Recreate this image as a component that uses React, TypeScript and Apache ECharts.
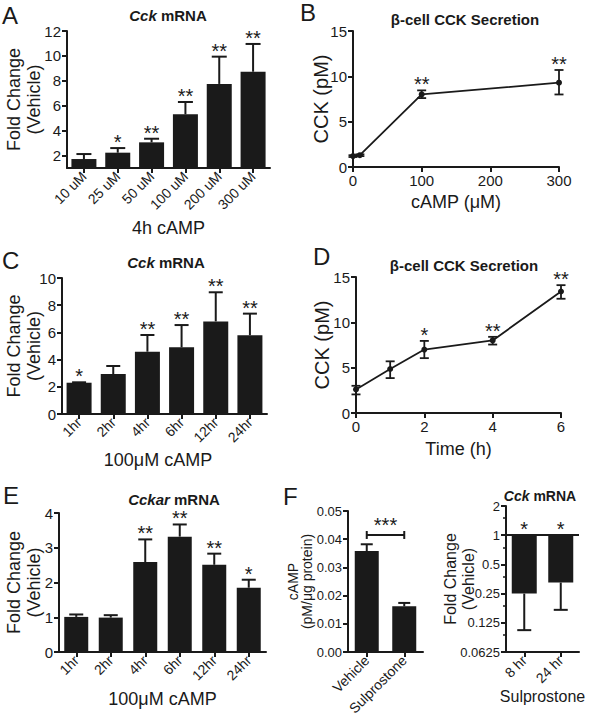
import React, { useEffect, useRef } from 'react';
import * as echarts from 'echarts';

const FONT = '"Liberation Sans", Arial, Helvetica, sans-serif';
const INK = '#1a1a1a';

// ---- Panel A: Cck mRNA, 4h cAMP dose ----
const aCategories = ['10 uM', '25 uM', '50 uM', '100 uM', '200 uM', '300 uM'];
const aMeans = [1.72, 2.23, 3.06, 5.31, 7.75, 8.73];
const aErrTops = [2.12, 2.6, 3.35, 6.3, 9.94, 10.96];
const aStars = ['', '*', '**', '**', '**', '**'];
const aYTicks = [2, 4, 6, 8, 10, 12];

// ---- Panel B: beta-cell CCK secretion vs cAMP dose ----
const bDose = [0, 10, 100, 300];
const bMeans = [1.2, 1.3, 8.0, 9.3];
const bLow = [1.1, 1.2, 7.6, 8.0];
const bHigh = [1.3, 1.4, 8.45, 10.7];
const bStars = ['', '', '**', '**'];

// ---- Panel C: Cck mRNA, 100 uM cAMP time course ----
const cCategories = ['1hr', '2hr', '4hr', '6hr', '12hr', '24hr'];
const cMeans = [2.3, 2.94, 4.58, 4.9, 6.81, 5.79];
const cErrTops = [2.33, 3.53, 5.81, 6.54, 8.95, 7.38];
const cStars = ['*', '', '**', '**', '**', '**'];

// ---- Panel D: beta-cell CCK secretion vs time ----
const dTime = [0, 1, 2, 4, 6];
const dMeans = [2.6, 4.85, 7.0, 8.0, 13.4];
const dLow = [2.05, 3.85, 6.05, 7.55, 12.6];
const dHigh = [3.0, 5.7, 7.95, 8.4, 14.1];
const dStars = ['', '', '*', '**', '**'];

// ---- Panel E: Cckar mRNA ----
const eCategories = ['1hr', '2hr', '4hr', '6hr', '12hr', '24hr'];
const eMeans = [1.01, 0.99, 2.59, 3.32, 2.51, 1.85];
const eErrTops = [1.08, 1.06, 3.24, 3.67, 2.83, 2.08];
const eStars = ['', '', '**', '**', '**', '*'];

// ---- Panel F (left): cAMP content ----
const fCategories = ['Vehicle', 'Sulprostone'];
const fMeans = [0.0358, 0.0162];
const fErrTops = [0.0382, 0.0174];
const fBracketValue = 0.0415;
const fBracketStars = '***';

// ---- Panel F (right): Cck mRNA with Sulprostone (log2 axis) ----
const gCategories = ['8 hr', '24 hr'];
const gMeans = [0.25, 0.325];
const gErrBottoms = [0.105, 0.17];
const gStars = ['*', '*'];
const gBaseline = 1;

const axisLine = { show: true, onZero: false, lineStyle: { color: INK, width: 2 } };
const axisTick = { show: true, length: 5, lineStyle: { color: INK, width: 2 } };
const tickLabel = (size: number) => ({ color: INK, fontFamily: FONT, fontSize: size });
const nameStyle = (size: number, lh?: number) => ({
  color: INK, fontFamily: FONT, fontSize: size, lineHeight: lh || size,
});

function catX(gi: number, data: string[], name: string, gap: number, nameSize: number, fontSize = 14, extra: any = {}) {
  return {
    type: 'category', gridIndex: gi, data, boundaryGap: true,
    axisLine, axisTick: { ...axisTick, alignWithLabel: true, interval: 0 },
    axisLabel: { ...tickLabel(fontSize), rotate: 45, interval: 0, margin: 6 },
    splitLine: { show: false },
    name, nameLocation: 'middle', nameGap: gap, nameMoveOverlap: false,
    nameTextStyle: { ...nameStyle(nameSize), ...extra },
  };
}

function valAxis(gi: number, min: number, max: number, interval: number, name: string, gap: number, ns: any, fontSize = 15, extra: any = {}) {
  return {
    type: 'value', gridIndex: gi, min, max, interval,
    axisLine, axisTick,
    axisLabel: { ...tickLabel(fontSize), margin: 6 },
    splitLine: { show: false },
    name, nameLocation: 'middle', nameGap: gap, nameMoveOverlap: false, nameTextStyle: ns,
    ...extra,
  };
}

function errSeries(gi: number, xs: any[], a: number[], b: number[], anchors: number[], stars: string[], cap: number, capBoth: boolean, lw: number) {
  return {
    type: 'custom', xAxisIndex: gi, yAxisIndex: gi, z: 5, clip: false, silent: true,
    data: xs.map((x, i) => [x, a[i], b[i], anchors[i]]),
    renderItem: (params: any, api: any) => {
      const x = api.value(0);
      const p0 = api.coord([x, api.value(1)]);
      const p1 = api.coord([x, api.value(2)]);
      const pa = api.coord([x, api.value(3)]);
      const h = cap / 2;
      const st = { stroke: INK, lineWidth: lw };
      const children: any[] = [
        { type: 'line', shape: { x1: p0[0], y1: p0[1], x2: p1[0], y2: p1[1] }, style: st },
        { type: 'line', shape: { x1: p1[0] - h, y1: p1[1], x2: p1[0] + h, y2: p1[1] }, style: st },
      ];
      if (capBoth) {
        children.push({ type: 'line', shape: { x1: p0[0] - h, y1: p0[1], x2: p0[0] + h, y2: p0[1] }, style: st });
      }
      const s = stars[params.dataIndex];
      if (s) {
        children.push({
          type: 'text', x: pa[0], y: pa[1] - 6,
          style: { text: s, fill: INK, font: `20px ${FONT}`, align: 'center', verticalAlign: 'middle' },
        });
      }
      return { type: 'group', children };
    },
  };
}

function barSeries(gi: number, values: number[], width: number, extra: any = {}) {
  return {
    type: 'bar', xAxisIndex: gi, yAxisIndex: gi, data: values, barWidth: width, clip: true,
    itemStyle: { color: INK }, silent: true, ...extra,
  };
}

function lineSeries(gi: number, xs: number[], ys: number[]) {
  return {
    type: 'line', xAxisIndex: gi, yAxisIndex: gi, data: xs.map((x, i) => [x, ys[i]]),
    symbol: 'circle', symbolSize: 6, lineStyle: { color: INK, width: 1.8 },
    itemStyle: { color: INK }, silent: true, z: 4,
  };
}

function label(text: string, x: number, y: number) {
  return { type: 'text', x, y, style: { text, fill: INK, font: `24px ${FONT}`, verticalAlign: 'middle' } };
}

function title(text: string, x: number, y: number, size: number) {
  return {
    type: 'text', x, y,
    style: {
      text, fill: INK, fontSize: size, fontWeight: 'bold', fontFamily: FONT,
      align: 'center', verticalAlign: 'middle',
      rich: { i: { fontStyle: 'italic', fontWeight: 'bold', fontSize: size, fontFamily: FONT, fill: INK } },
    },
  };
}

function buildOption(): any {
  const yName18 = nameStyle(18, 20);
  const grids = [
    { left: 67, top: 31, width: 203, height: 137 },
    { left: 353, top: 31, width: 206, height: 136 },
    { left: 62, top: 278, width: 205, height: 136 },
    { left: 356, top: 277, width: 205, height: 136 },
    { left: 59, top: 513, width: 207, height: 139 },
    { left: 348, top: 511, width: 75, height: 141 },
    { left: 506, top: 506, width: 73, height: 146 },
  ].map((g) => ({ ...g, containLabel: false, outerBoundsMode: 'none' }));

  const xAxis = [
    catX(0, aCategories, '4h cAMP', 51, 18),
    valAxis(1, 0, 300, 100, 'cAMP (\u03bcM)', 26, nameStyle(18)),
    catX(2, cCategories, '100\u03bcM cAMP', 37, 18, 14, { padding: [0, 13, 0, 0] }),
    valAxis(3, 0, 6, 2, 'Time (h)', 27, nameStyle(18)),
    catX(4, eCategories, '100\u03bcM cAMP', 38, 18),
    catX(5, fCategories, '', 0, 15, 14),
    catX(6, gCategories, 'Sulprostone', 36, 16, 14),
  ];

  const yAxis = [
    {
      ...valAxis(0, 1, 12, 1, 'Fold Change\n(Vehicle)', 23, yName18),
      axisLabel: { ...tickLabel(15), margin: 6, customValues: aYTicks },
      axisTick: { ...axisTick, customValues: aYTicks },
    },
    valAxis(1, 0, 15, 5, 'CCK (pM)', 22, nameStyle(20)),
    valAxis(2, 0, 10, 2, 'Fold Change\n(Vehicle)', 18, yName18),
    valAxis(3, 0, 15, 5, 'CCK (pM)', 24, nameStyle(20)),
    valAxis(4, 0, 4, 1, 'Fold Change\n(Vehicle)', 15, yName18),
    {
      ...valAxis(5, 0, 0.05, 0.01, 'cAMP\n(pM/\u03bcg protein)', 34, nameStyle(14, 14), 13),
      axisLabel: { ...tickLabel(13), margin: 6, formatter: (v: number) => v.toFixed(2) },
    },
    {
      type: 'log', logBase: 2, gridIndex: 6, min: 0.0625, max: 2, splitNumber: 5,
      axisLine, axisTick,
      minorTick: { show: true, splitNumber: 2, length: 3, lineStyle: { color: INK, width: 1.5 } },
      axisLabel: { ...tickLabel(13), margin: 6 },
      splitLine: { show: false }, minorSplitLine: { show: false },
      name: 'Fold Change\n(Vehicle)', nameLocation: 'middle', nameGap: 29, nameMoveOverlap: false,
      nameTextStyle: nameStyle(16, 18),
    },
  ];

  const fIdx = fCategories.map((_, i) => i);
  const gIdx = gCategories.map((_, i) => i);

  const series: any[] = [
    barSeries(0, aMeans, 25),
    errSeries(0, aCategories.map((_, i) => i), aMeans, aErrTops, aErrTops, aStars, 15, false, 2),

    lineSeries(1, bDose, bMeans),
    errSeries(1, bDose, bLow, bHigh, bHigh, bStars, 9, true, 1.8),

    barSeries(2, cMeans, 25),
    errSeries(2, cCategories.map((_, i) => i), cMeans, cErrTops, cErrTops, cStars, 14, false, 2),

    lineSeries(3, dTime, dMeans),
    errSeries(3, dTime, dLow, dHigh, dHigh, dStars, 9, true, 1.8),

    barSeries(4, eMeans, 24),
    errSeries(4, eCategories.map((_, i) => i), eMeans, eErrTops, eErrTops, eStars, 14, false, 2),

    barSeries(5, fMeans, 24),
    errSeries(5, fIdx, fMeans, fErrTops, fErrTops, ['', ''], 12, false, 2),
    {
      type: 'custom', xAxisIndex: 5, yAxisIndex: 5, z: 5, clip: false, silent: true,
      data: [[0, 1, fBracketValue]],
      renderItem: (params: any, api: any) => {
        const p0 = api.coord([api.value(0), api.value(2)]);
        const p1 = api.coord([api.value(1), api.value(2)]);
        const st = { stroke: INK, lineWidth: 2 };
        return {
          type: 'group',
          children: [
            { type: 'line', shape: { x1: p0[0], y1: p0[1], x2: p1[0], y2: p1[1] }, style: st },
            { type: 'line', shape: { x1: p0[0], y1: p0[1] - 4, x2: p0[0], y2: p0[1] + 4 }, style: st },
            { type: 'line', shape: { x1: p1[0], y1: p1[1] - 4, x2: p1[0], y2: p1[1] + 4 }, style: st },
            {
              type: 'text', x: (p0[0] + p1[0]) / 2, y: p0[1] - 10,
              style: { text: fBracketStars, fill: INK, font: `20px ${FONT}`, align: 'center', verticalAlign: 'middle' },
            },
          ],
        };
      },
    },

    barSeries(6, gMeans, 25, {
      markLine: {
        silent: true, symbol: 'none', label: { show: false },
        lineStyle: { color: INK, width: 2, type: 'solid' },
        data: [{ yAxis: gBaseline }],
      },
    }),
    errSeries(6, gIdx, gMeans, gErrBottoms, gCategories.map(() => gBaseline), gStars, 14, false, 2),
  ];

  const graphic = [
    label('A', 2, 15),
    label('B', 300, 12),
    label('C', 2, 260),
    label('D', 313, 256),
    label('E', 3, 495),
    label('F', 283, 496),
    title('{i|Cck} mRNA', 168, 15, 15),
    title('\u03b2-cell CCK Secretion', 465, 19, 15),
    title('{i|Cck} mRNA', 166, 262, 15),
    title('\u03b2-cell CCK Secretion', 464, 265, 15),
    title('{i|Cckar} mRNA', 174, 499, 15),
    title('{i|Cck} mRNA', 540, 496, 14),
  ];

  return {
    animation: false,
    backgroundColor: '#ffffff',
    textStyle: { fontFamily: FONT, color: INK },
    grid: grids,
    xAxis,
    yAxis,
    series,
    graphic,
  };
}

export default function App() {
  const ref = useRef<HTMLDivElement>(null);
  useEffect(() => {
    if (!ref.current) return;
    const chart = echarts.init(ref.current, null, { renderer: 'svg' });
    chart.setOption(buildOption());
    return () => chart.dispose();
  }, []);
  return (
    <div
      ref={ref}
      style={{ position: 'fixed', left: 0, top: 0, width: 614, height: 719, background: '#fff' }}
    />
  );
}
